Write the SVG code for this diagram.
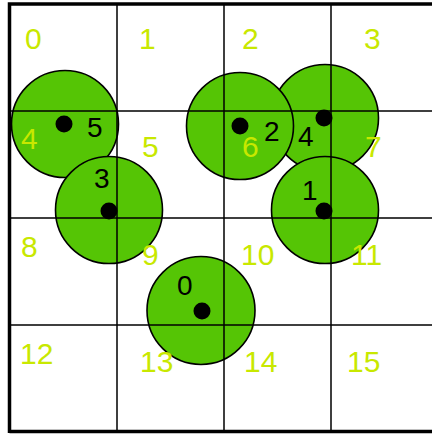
<svg xmlns="http://www.w3.org/2000/svg" width="432" height="434" viewBox="0 0 432 434">
<style>
.cir{fill:#55c505;stroke:#000;stroke-width:1.6}
.dot{fill:#000}
.grid{stroke:#000;stroke-width:1.5;fill:none}
.border{stroke:#000;stroke-width:3.5;fill:none}
.cell{font-family:"Liberation Sans",Arial,sans-serif;font-size:30px;fill:#c8e800}
.lbl{font-family:"Liberation Sans",Arial,sans-serif;font-size:28px;fill:#000}
</style>
<rect width="432" height="434" fill="#fff"/>
<g id="circles">
<g id="c5"><circle class="cir" cx="65" cy="124" r="53.5"/></g>
<g id="c4"><circle class="cir" cx="325" cy="118" r="53.5"/></g>
<g id="c3"><circle class="cir" cx="109" cy="210" r="53.5"/></g>
<g id="c2"><circle class="cir" cx="240" cy="126" r="53.5"/></g>
<g id="c1"><circle class="cir" cx="325" cy="210" r="53.5"/></g>
<g id="c0"><circle class="cir" cx="201" cy="310.5" r="54"/></g>
</g>
<g id="grid">
<path class="grid" d="M117 4V432M224 4V432M331 4V432M10 111H432M10 218H432M10 325H432"/>
<path class="border" d="M9.5 433V4H432M9.5 431.5H432"/>
</g>
<g id="cells">
<text class="cell" x="25" y="49">0</text>
<text class="cell" x="139" y="49">1</text>
<text class="cell" x="242" y="49">2</text>
<text class="cell" x="364" y="49">3</text>
<text class="cell" x="21" y="149">4</text>
<text class="cell" x="142" y="157">5</text>
<text class="cell" x="242" y="157">6</text>
<text class="cell" x="365" y="157">7</text>
<text class="cell" x="21" y="257">8</text>
<text class="cell" x="142" y="265">9</text>
<text class="cell" x="241" y="265">10</text>
<text class="cell" x="351" y="265">11</text>
<text class="cell" x="20" y="364">12</text>
<text class="cell" x="140" y="372">13</text>
<text class="cell" x="244" y="372">14</text>
<text class="cell" x="347" y="372">15</text>
</g>
<g id="dots">
<g id="p5"><circle class="dot" cx="64" cy="124" r="8.5"/><text class="lbl" x="87" y="137">5</text></g>
<g id="p4"><circle class="dot" cx="324" cy="118" r="8.5"/><text class="lbl" x="298" y="146">4</text></g>
<g id="p3"><circle class="dot" cx="109" cy="211" r="8.5"/><text class="lbl" x="94" y="188">3</text></g>
<g id="p2"><circle class="dot" cx="240" cy="126" r="8.5"/><text class="lbl" x="264" y="141">2</text></g>
<g id="p1"><circle class="dot" cx="324" cy="211" r="8.5"/><text class="lbl" x="302" y="200">1</text></g>
<g id="p0"><circle class="dot" cx="202" cy="311" r="8.5"/><text class="lbl" x="177" y="295">0</text></g>
</g>
</svg>
